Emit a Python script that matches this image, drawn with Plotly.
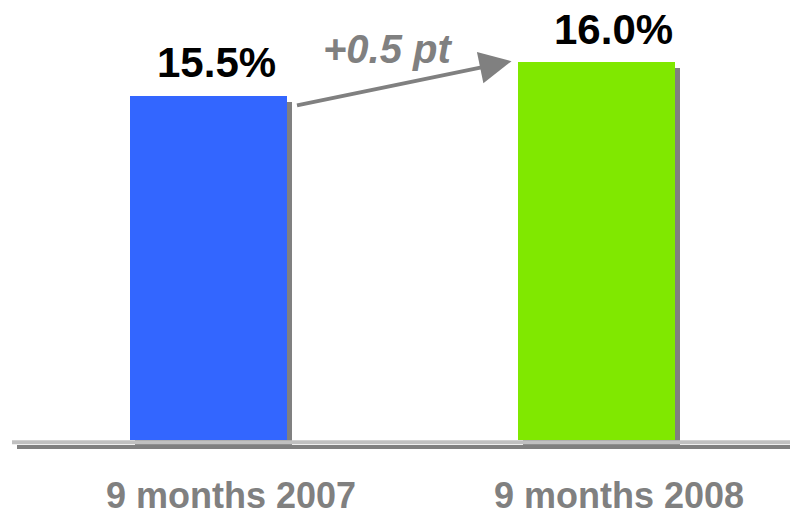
import plotly.graph_objects as go

# Operating margin, nine-month periods
periods = ["9 months 2007", "9 months 2008"]
margin_pct = [15.5, 16.0]
value_labels = ["15.5%", "16.0%"]
change_label = "+0.5 pt"

bar_colors = ["#3366FF", "#80E800"]
shadow_color = "#808080"
axis_light = "#C0C0C0"
label_grey = "#808080"
FONT = "Liberation Sans, Arial, Helvetica, sans-serif"

# Canvas and scale setup
W, H = 790, 516
plot_bottom_px = 460            # plot area spans y = 0 .. 460 px
px_per_unit_y = 68.0            # vertical scale (px per percentage point)
axis_base = 10.38               # value at which the bars stand
base_px = 445                   # pixel row of the bar base

px_per_cat = 388.0              # horizontal px per category step
cat0_px = 231.0                 # pixel column of the first category
x_lo = -cat0_px / px_per_cat
x_hi = x_lo + W / px_per_cat

y_top = axis_base + base_px / px_per_unit_y
y_bot = axis_base - (plot_bottom_px - base_px) / px_per_unit_y


def dx(px):
    return px / px_per_cat


def dy(px):
    return px / px_per_unit_y


bar_w = dx(157)
bar_shift = dx(-23)              # bars sit slightly left of their labels
bar_offset = bar_shift - bar_w / 2

fig = go.Figure()

# drop shadow behind each bar
shadow_base = axis_base - dy(9)
fig.add_trace(go.Bar(
    x=periods,
    y=[v - dy(6) - shadow_base for v in margin_pct],
    base=[shadow_base] * len(margin_pct),
    width=[bar_w] * len(margin_pct),
    offset=[bar_offset + dx(5)] * len(margin_pct),
    marker=dict(color=shadow_color, line=dict(width=0)),
    hoverinfo="skip",
    showlegend=False,
))

# main bars
fig.add_trace(go.Bar(
    x=periods,
    y=[v - axis_base for v in margin_pct],
    base=[axis_base] * len(margin_pct),
    width=[bar_w] * len(margin_pct),
    offset=[bar_offset] * len(margin_pct),
    marker=dict(color=bar_colors, line=dict(width=0)),
    customdata=margin_pct,
    hovertemplate="%{x}: %{customdata:.1f}%<extra></extra>",
    showlegend=False,
))

# double baseline
fig.add_shape(type="line", xref="paper", yref="y",
              x0=12 / W, x1=1, y0=axis_base - dy(2), y1=axis_base - dy(2),
              line=dict(color=axis_light, width=4))
fig.add_shape(type="line", xref="paper", yref="y",
              x0=17 / W, x1=1, y0=axis_base - dy(7), y1=axis_base - dy(7),
              line=dict(color=shadow_color, width=4))

# value labels above the bars
label_xshift = [-15, -6]
for i, (v, t) in enumerate(zip(margin_pct, value_labels)):
    fig.add_annotation(
        x=i, y=v, xref="x", yref="y", text=t, showarrow=False,
        xanchor="center", yanchor="middle", xshift=label_xshift[i], yshift=33,
        font=dict(family=FONT, size=42, color="#000000", weight="bold"),
    )

# change arrow from the first bar to the second
left_bar_right = 0 + bar_shift + bar_w / 2
right_bar_left = 1 + bar_shift - bar_w / 2
fig.add_annotation(
    x=right_bar_left - dx(6), y=margin_pct[1] + dy(1),
    ax=left_bar_right + dx(9), ay=margin_pct[0] - dy(10),
    xref="x", yref="y", axref="x", ayref="y",
    text="", showarrow=True, arrowhead=2, arrowsize=1.6, arrowwidth=4,
    arrowcolor=label_grey, standoff=0, startstandoff=0,
)
fig.add_annotation(
    x=0.5, y=margin_pct[1], xref="x", yref="y", text="<i>" + change_label + "</i>",
    showarrow=False, xanchor="center", yanchor="middle", xshift=-37.5, yshift=13,
    font=dict(family=FONT, size=40, color=label_grey, weight="bold"),
)

fig.update_layout(
    width=W, height=H,
    margin=dict(l=0, r=0, t=0, b=H - plot_bottom_px, pad=0),
    paper_bgcolor="white", plot_bgcolor="white",
    bargap=0, barmode="overlay",
    xaxis=dict(type="category", range=[x_lo, x_hi], showgrid=False, zeroline=False,
               showline=False, ticks="", ticklabelstandoff=16,
               tickfont=dict(family=FONT, size=36, color=label_grey, weight="bold"),
               fixedrange=True),
    yaxis=dict(range=[y_bot, y_top], visible=False, fixedrange=True),
)

fig.write_html("out.html")
